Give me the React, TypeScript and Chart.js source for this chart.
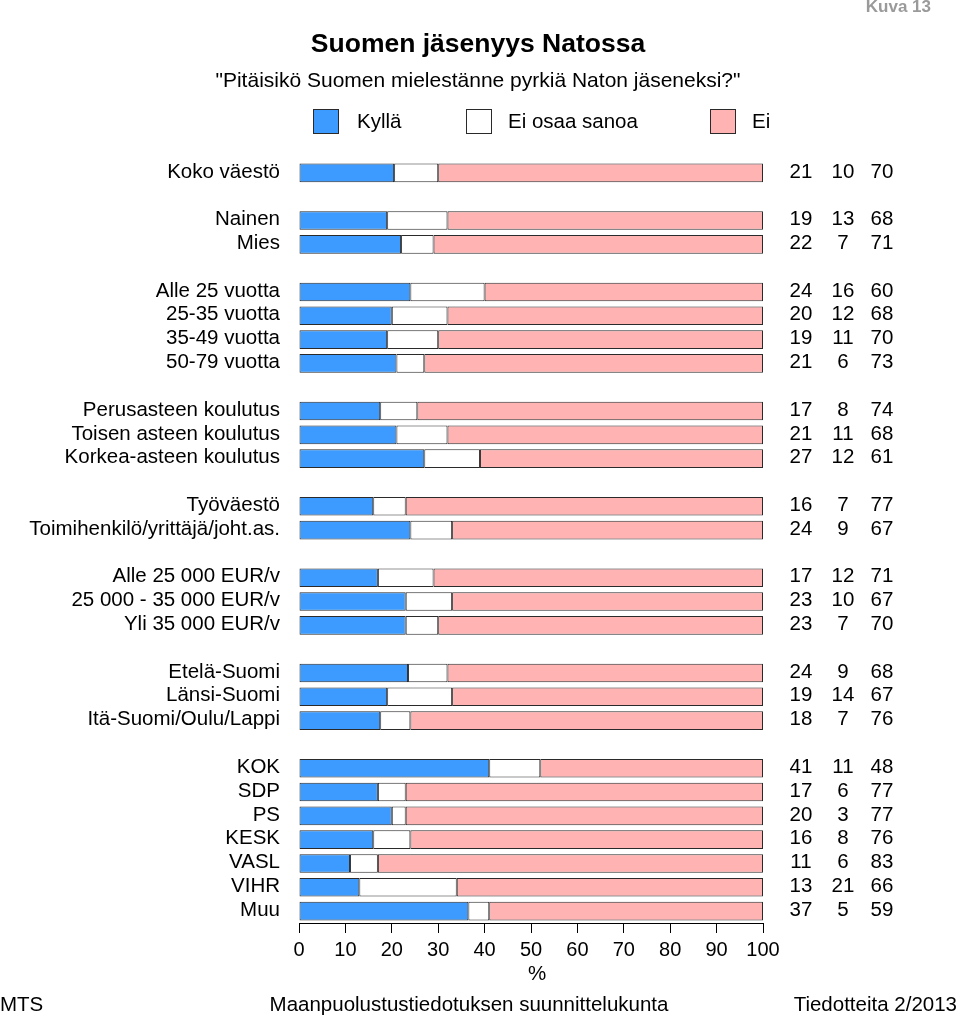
import React, { useEffect, useRef } from "react";
import { Chart, registerables } from "chart.js";

Chart.register(...registerables);

const categories: string[] = [
  "Koko väestö", "",
  "Nainen", "Mies", "",
  "Alle 25 vuotta", "25-35 vuotta", "35-49 vuotta", "50-79 vuotta", "",
  "Perusasteen koulutus", "Toisen asteen koulutus", "Korkea-asteen koulutus", "",
  "Työväestö", "Toimihenkilö/yrittäjä/joht.as.", "",
  "Alle 25 000 EUR/v", "25 000 - 35 000 EUR/v", "Yli 35 000 EUR/v", "",
  "Etelä-Suomi", "Länsi-Suomi", "Itä-Suomi/Oulu/Lappi", "",
  "KOK", "SDP", "PS", "KESK", "VASL", "VIHR", "Muu",
];

// bar segment values (%)
const kyllaValues: (number | null)[] = [
  20.5, null, 19, 22, null, 24, 20, 19, 21, null, 17.5, 21, 27, null, 16, 24, null,
  17, 23, 23, null, 23.5, 19, 17.5, null, 41, 17, 20, 16, 11, 13, 36.5,
];
const eosValues: (number | null)[] = [
  9.5, null, 13, 7, null, 16, 12, 11, 6, null, 8, 11, 12, null, 7, 9, null,
  12, 10, 7, null, 8.5, 14, 6.5, null, 11, 6, 3, 8, 6, 21, 4.5,
];
const eiValues: (number | null)[] = [
  70, null, 68, 71, null, 60, 68, 70, 73, null, 74.5, 68, 61, null, 77, 67, null,
  71, 67, 70, null, 68, 67, 76, null, 48, 77, 77, 76, 83, 66, 59,
];

// printed numbers at the right
const kyllaLabels: string[] = [
  "21", "", "19", "22", "", "24", "20", "19", "21", "", "17", "21", "27", "", "16", "24", "",
  "17", "23", "23", "", "24", "19", "18", "", "41", "17", "20", "16", "11", "13", "37",
];
const eosLabels: string[] = [
  "10", "", "13", "7", "", "16", "12", "11", "6", "", "8", "11", "12", "", "7", "9", "",
  "12", "10", "7", "", "9", "14", "7", "", "11", "6", "3", "8", "6", "21", "5",
];
const eiLabels: string[] = [
  "70", "", "68", "71", "", "60", "68", "70", "73", "", "74", "68", "61", "", "77", "67", "",
  "71", "67", "70", "", "68", "67", "76", "", "48", "77", "77", "76", "83", "66", "59",
];

const seriesNames = ["Kyllä", "Ei osaa sanoa", "Ei"];
const xTicks = [0, 10, 20, 30, 40, 50, 60, 70, 80, 90, 100];

const COL_BLUE = "#3d9bff";
const COL_WHITE = "#ffffff";
const COL_PINK = "#ffb3b3";
const BORDER = "#2a2a2a";
const FONT = "'Liberation Sans', Arial, sans-serif";

const decorPlugin = {
  id: "decor",
  afterDraw(chart: any) {
    const ctx = chart.ctx as CanvasRenderingContext2D;
    const y = chart.scales.y;
    ctx.save();
    // right-hand numbers
    ctx.fillStyle = "#000";
    ctx.font = `20.5px ${FONT}`;
    ctx.textAlign = "center";
    ctx.textBaseline = "middle";
    const cols = [801, 843, 882];
    const lbls = [kyllaLabels, eosLabels, eiLabels];
    categories.forEach((_, i) => {
      const py = y.getPixelForValue(i);
      lbls.forEach((arr, k) => {
        if (arr[i]) ctx.fillText(arr[i], cols[k], py - 1);
      });
    });

    // x axis title
    ctx.fillText("%", 537, 974);

    // title and subtitle
    ctx.textAlign = "center";
    ctx.font = `bold 26.5px ${FONT}`;
    ctx.fillText("Suomen jäsenyys Natossa", 478, 45);
    ctx.font = `21px ${FONT}`;
    ctx.fillText("\"Pitäisikö Suomen mielestänne pyrkiä Naton jäseneksi?\"", 478, 81);

    // Kuva 13
    ctx.textAlign = "right";
    ctx.fillStyle = "#9a9a9a";
    ctx.font = `bold 17px ${FONT}`;
    ctx.fillText("Kuva 13", 931, 7);

    // legend
    const leg = [
      { x: 313, color: COL_BLUE, tx: 357 },
      { x: 466, color: COL_WHITE, tx: 508 },
      { x: 710, color: COL_PINK, tx: 752 },
    ];
    ctx.textAlign = "left";
    ctx.font = `20.5px ${FONT}`;
    leg.forEach((l, k) => {
      ctx.fillStyle = l.color;
      ctx.fillRect(l.x, 109, 26, 25);
      ctx.strokeStyle = BORDER;
      ctx.lineWidth = 1;
      ctx.strokeRect(l.x + 0.5, 109.5, 25, 24);
      ctx.fillStyle = "#000";
      ctx.fillText(seriesNames[k], l.tx, 122);
    });

    // footer
    ctx.font = `20.5px ${FONT}`;
    ctx.textAlign = "left";
    ctx.fillText("MTS", 0, 1005);
    ctx.textAlign = "center";
    ctx.fillText("Maanpuolustustiedotuksen suunnittelukunta", 469, 1005);
    ctx.textAlign = "right";
    ctx.fillText("Tiedotteita 2/2013", 957, 1005);
    ctx.restore();
  },
};

export default function App() {
  const ref = useRef<HTMLCanvasElement | null>(null);
  useEffect(() => {
    if (!ref.current) return;
    const mk = (label: string, data: (number | null)[], color: string) => ({
      label,
      data,
      backgroundColor: color,
      borderColor: BORDER,
      borderWidth: 1,
      borderSkipped: false,
      barPercentage: 0.78,
      categoryPercentage: 1,
    });
    const chart = new Chart(ref.current, {
      type: "bar",
      data: {
        labels: categories,
        datasets: [
          mk(seriesNames[0], kyllaValues, COL_BLUE),
          mk(seriesNames[1], eosValues, COL_WHITE),
          mk(seriesNames[2], eiValues, COL_PINK),
        ],
      },
      options: {
        indexAxis: "y",
        responsive: false,
        animation: false,
        devicePixelRatio: 1,
        layout: { padding: { left: 0, right: 197, top: 161, bottom: 0 } },
        plugins: {
          legend: { display: false },
          tooltip: { enabled: false },
          title: { display: false },
        },
        scales: {
          y: {
            stacked: true,
            grid: { display: false, drawTicks: false },
            border: { display: false },
            ticks: {
              autoSkip: false,
              color: "#000",
              font: { family: FONT, size: 20.5 },
              padding: 19,
              labelOffset: -1,
            },
            afterFit: (s: any) => { s.width = 299; },
          },
          x: {
            stacked: true,
            min: 0,
            max: 100,
            afterBuildTicks: (s: any) => { s.ticks = xTicks.map((v) => ({ value: v })); },
            grid: {
              display: true,
              drawOnChartArea: false,
              drawTicks: true,
              tickLength: 10,
              color: "#000",
            },
            border: { display: true, color: "#000", width: 1 },
            ticks: {
              color: "#000",
              font: { family: FONT, size: 20 },
              padding: 5,
              maxRotation: 0,
              autoSkip: false,
            },
            title: { display: false },
            afterFit: (s: any) => { s.height = 94; },
          },
        },
      },
      plugins: [decorPlugin],
    } as any);
    return () => chart.destroy();
  }, []);
  return (
    <div style={{ position: "absolute", left: 0, top: 0, width: 960, height: 1017, background: "#fff" }}>
      <canvas ref={ref} width={960} height={1017} style={{ display: "block" }} />
    </div>
  );
}
